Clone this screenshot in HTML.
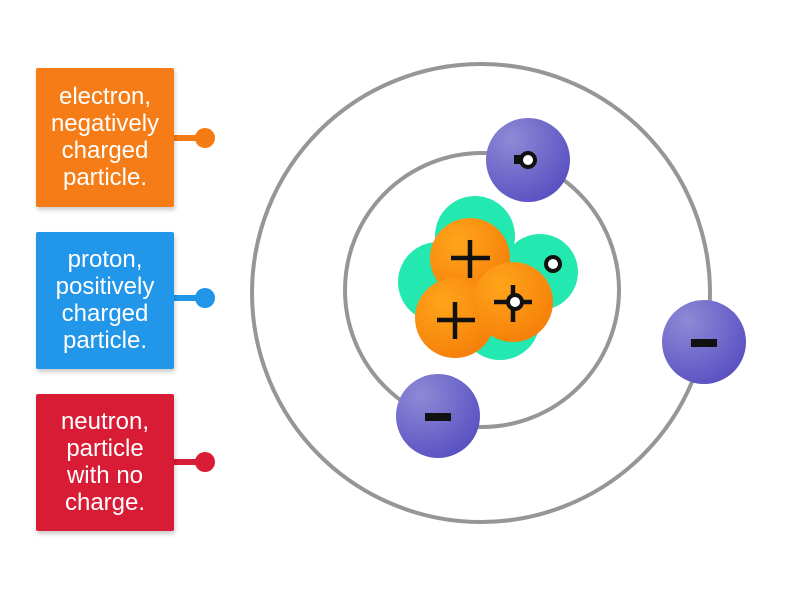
<!DOCTYPE html>
<html><head><meta charset="utf-8"><style>
html,body{margin:0;padding:0;background:#fff;width:800px;height:600px;overflow:hidden}
svg{display:block}
</style></head><body>
<svg width="800" height="600" viewBox="0 0 800 600" xmlns="http://www.w3.org/2000/svg">
<defs>
<radialGradient id="el" cx="30%" cy="25%" r="80%"><stop offset="0" stop-color="#8e8ad6"/><stop offset="1" stop-color="#5b52c2"/></radialGradient>
<radialGradient id="pr" cx="35%" cy="30%" r="75%"><stop offset="0" stop-color="#ffa51a"/><stop offset="1" stop-color="#f57f0a"/></radialGradient>
<filter id="sh" x="-10%" y="-10%" width="130%" height="130%"><feDropShadow dx="1" dy="3" stdDeviation="2" flood-color="#000" flood-opacity="0.2"/></filter>
</defs>
<circle cx="481" cy="293" r="229" fill="none" stroke="#969696" stroke-width="4"/>
<circle cx="482" cy="290" r="137" fill="none" stroke="#969696" stroke-width="4"/>
<g fill="#23e8b0">
<circle cx="475" cy="236" r="40"/>
<circle cx="438" cy="282" r="40"/>
<circle cx="540" cy="272" r="38"/>
<circle cx="500" cy="320" r="40"/>
</g>
<circle cx="470" cy="258" r="40" fill="url(#pr)"/>
<circle cx="455" cy="318" r="40" fill="url(#pr)"/>
<circle cx="513" cy="302" r="40" fill="url(#pr)"/>
<g stroke="#111" stroke-width="4.5">
<line x1="451" y1="258" x2="490" y2="258"/><line x1="470" y1="240" x2="470" y2="278"/>
<line x1="437" y1="320" x2="475" y2="320"/><line x1="455" y1="302" x2="455" y2="339"/>
<line x1="494" y1="302" x2="532" y2="302"/><line x1="513" y1="285" x2="513" y2="322"/>
</g>
<circle cx="515" cy="302" r="7" fill="#fff" stroke="#111" stroke-width="4"/>
<circle cx="553" cy="264" r="7" fill="#fff" stroke="#111" stroke-width="4"/>
<circle cx="528" cy="160" r="42" fill="url(#el)"/>
<rect x="514" y="155" width="8" height="9" fill="#111"/>
<circle cx="528" cy="160" r="7" fill="#fff" stroke="#111" stroke-width="4"/>
<circle cx="704" cy="342" r="42" fill="url(#el)"/>
<rect x="691" y="339" width="26" height="8" fill="#111"/>
<circle cx="438" cy="416" r="42" fill="url(#el)"/>
<rect x="425" y="413" width="26" height="8" fill="#111"/>
<g stroke-width="6">
<line x1="172" y1="138" x2="205" y2="138" stroke="#f57c14"/>
<line x1="172" y1="298" x2="205" y2="298" stroke="#2196e8"/>
<line x1="172" y1="462" x2="205" y2="462" stroke="#d91d36"/>
</g>
<circle cx="205" cy="138" r="10" fill="#f57c14"/>
<circle cx="205" cy="298" r="10" fill="#2196e8"/>
<circle cx="205" cy="462" r="10" fill="#d91d36"/>
<rect x="36" y="68" width="138" height="139" rx="2" fill="#f57c14" filter="url(#sh)"/>
<rect x="36" y="232" width="138" height="137" rx="2" fill="#2196e8" filter="url(#sh)"/>
<rect x="36" y="394" width="138" height="137" rx="2" fill="#d91d36" filter="url(#sh)"/>
<g font-family="Liberation Sans, sans-serif" font-size="24" fill="#fff" text-anchor="middle">
<text x="105" y="104">electron,</text>
<text x="105" y="131">negatively</text>
<text x="105" y="158">charged</text>
<text x="105" y="185">particle.</text>
<text x="105" y="267">proton,</text>
<text x="105" y="294">positively</text>
<text x="105" y="321">charged</text>
<text x="105" y="348">particle.</text>
<text x="105" y="429">neutron,</text>
<text x="105" y="456">particle</text>
<text x="105" y="483">with no</text>
<text x="105" y="510">charge.</text>
</g>
</svg>
</body></html>
